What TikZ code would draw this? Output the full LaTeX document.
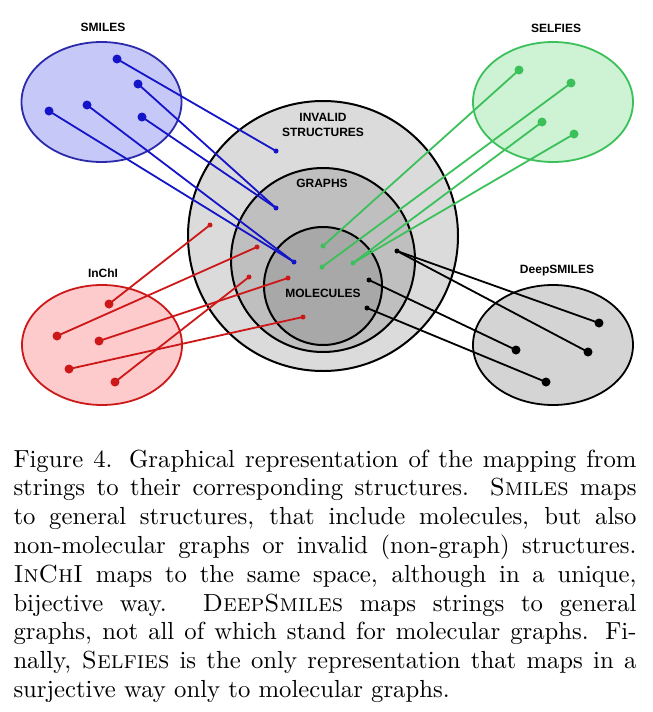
\documentclass[tikz,border=0pt]{standalone}
\usepackage{fontspec}
\usepackage{tikz}
\usetikzlibrary{shapes.geometric}
\setmainfont{lmroman10-regular}[Extension=.otf,
    SmallCapsFont=lmromancaps10-regular]
\newfontfamily\mapfont{Liberation Sans}
\definecolor{MapInvalid}{gray}{0.86}
\definecolor{MapGraphs}{gray}{0.75}
\definecolor{MapMolecules}{gray}{0.66}
\definecolor{MapDeepFill}{gray}{0.83}
\definecolor{MapBlue}{HTML}{1414C8}
\definecolor{MapBlueFill}{HTML}{C6C8F8}
\definecolor{MapBlueEdge}{HTML}{2A2AAA}
\definecolor{MapGreen}{HTML}{3CC05A}
\definecolor{MapGreenFill}{HTML}{CDF2D4}
\definecolor{MapRed}{HTML}{CC1818}
\definecolor{MapRedFill}{HTML}{FDCBCB}
\tikzset{
    map/diagram/.style={
        x=1pt, y=-1pt,
        line cap=round,
        line join=round,
        every node/.style={inner sep=0pt, outer sep=0pt}
    },
    map/space/.style={circle, draw=black, line width=2pt},
    map/notation/.style={
        ellipse, minimum width=160pt, minimum height=120pt,
        line width=1.8pt
    },
    map/title/.style={
        font=\mapfont\bfseries\fontsize{12}{15}\selectfont, align=center
    },
    map/string/.style={circle, fill=#1, draw=none, minimum size=9pt},
    map/image/.style={circle, fill=#1, draw=none, minimum size=5pt},
    map/link/.style={draw=#1, line width=1.8pt},
    map/caption/.style={
        text width=623pt, align=justify,
        font=\fontsize{24.7}{28.8}\selectfont
    }
}
\begin{document}
\begin{tikzpicture}[map/diagram]
    \useasboundingbox (0,0) rectangle (653,712);
    % nested spaces
    \node[map/space, fill=MapInvalid, minimum size=270pt] (invalid) at (323,236) {};
    \node[map/space, fill=MapGraphs, minimum size=184pt] (graphs) at (323,260) {};
    \node[map/space, fill=MapMolecules, minimum size=118pt] (molecules) at (323,286) {};
    \node[map/title] (invalidlabel) at (323,124.5) {INVALID\\STRUCTURES};
    \node[map/title] (graphslabel) at (322,183) {GRAPHS};
    \node[map/title] (moleculeslabel) at (323,293) {MOLECULES};
    % string notations
    \node[map/notation, fill=MapBlueFill, draw=MapBlueEdge] (smiles) at (101.5,102) {};
    \node[map/notation, fill=MapGreenFill, draw=MapGreen] (selfies) at (553,102) {};
    \node[map/notation, fill=MapRedFill, draw=MapRed] (inchi) at (102,345) {};
    \node[map/notation, fill=MapDeepFill, draw=black] (deep) at (553,345) {};
    \node[map/title] (smileslabel) at (103,27) {SMILES};
    \node[map/title] (selfieslabel) at (556,28) {SELFIES};
    \node[map/title] (inchilabel) at (103,273) {InChI};
    \node[map/title] (deeplabel) at (557,271) {DeepSMILES};
    % SMILES
    \node[map/string=MapBlue] (s1) at (117,59) {};
    \node[map/string=MapBlue] (s2) at (138,84) {};
    \node[map/string=MapBlue] (s3) at (142,117) {};
    \node[map/string=MapBlue] (s4) at (87,105) {};
    \node[map/string=MapBlue] (s5) at (49,111) {};
    \node[map/image=MapBlue] (se1) at (276,151) {};
    \node[map/image=MapBlue] (se2) at (276,208) {};
    \node[map/image=MapBlue] (se3) at (294,262) {};
    \draw[map/link=MapBlue] (s1.center) -- (se1.center);
    \draw[map/link=MapBlue] (s2.center) -- (se2.center);
    \draw[map/link=MapBlue] (s3.center) -- (se2.center);
    \draw[map/link=MapBlue] (s4.center) -- (se3.center);
    \draw[map/link=MapBlue] (s5.center) -- (se3.center);
    % SELFIES
    \node[map/string=MapGreen] (f1) at (519,70) {};
    \node[map/string=MapGreen] (f2) at (571,83) {};
    \node[map/string=MapGreen] (f3) at (542,122) {};
    \node[map/string=MapGreen] (f4) at (574,134) {};
    \node[map/image=MapGreen] (fe1) at (323,246) {};
    \node[map/image=MapGreen] (fe2) at (322,267) {};
    \node[map/image=MapGreen] (fe3) at (353,263) {};
    \draw[map/link=MapGreen] (f1.center) -- (fe1.center);
    \draw[map/link=MapGreen] (f2.center) -- (fe2.center);
    \draw[map/link=MapGreen] (f3.center) -- (fe3.center);
    \draw[map/link=MapGreen] (f4.center) -- (fe3.center);
    % InChI
    \node[map/string=MapRed] (i1) at (109,304) {};
    \node[map/string=MapRed] (i2) at (57,336) {};
    \node[map/string=MapRed] (i3) at (99,341) {};
    \node[map/string=MapRed] (i4) at (69,369) {};
    \node[map/string=MapRed] (i5) at (115,382) {};
    \node[map/image=MapRed] (ie1) at (210,225) {};
    \node[map/image=MapRed] (ie2) at (257,247) {};
    \node[map/image=MapRed] (ie3) at (288,278) {};
    \node[map/image=MapRed] (ie4) at (303,317) {};
    \node[map/image=MapRed] (ie5) at (249,277) {};
    \draw[map/link=MapRed] (i1.center) -- (ie1.center);
    \draw[map/link=MapRed] (i2.center) -- (ie2.center);
    \draw[map/link=MapRed] (i3.center) -- (ie3.center);
    \draw[map/link=MapRed] (i4.center) -- (ie4.center);
    \draw[map/link=MapRed] (i5.center) -- (ie5.center);
    % DeepSMILES
    \node[map/string=black] (d1) at (599,323) {};
    \node[map/string=black] (d2) at (588,352) {};
    \node[map/string=black] (d3) at (516,350) {};
    \node[map/string=black] (d4) at (546,382) {};
    \node[map/image=black] (de1) at (397,251) {};
    \node[map/image=black] (de2) at (369,280) {};
    \node[map/image=black] (de3) at (367,308) {};
    \draw[map/link=black] (d1.center) -- (de1.center);
    \draw[map/link=black] (d2.center) -- (de1.center);
    \draw[map/link=black] (d3.center) -- (de2.center);
    \draw[map/link=black] (d4.center) -- (de3.center);
    % caption
    \node[map/caption, anchor=north west] (caption) at (13.5,449.6) {%
        Figure 4. Graphical representation of the mapping from\linebreak
        strings to their corresponding structures. \textsc{Smiles} maps\linebreak
        to general structures, that include molecules, but also\linebreak
        non-molecular graphs or invalid (non-graph) structures.\linebreak
        \textsc{InChI} maps to the same space, although in a unique,\linebreak
        bijective way. \textsc{DeepSmiles} maps strings to general\linebreak
        graphs, not all of which stand for molecular graphs. Fi-\linebreak
        nally, \textsc{Selfies} is the only representation that maps in a\linebreak
        surjective way only to molecular graphs.};
\end{tikzpicture}
\end{document}
